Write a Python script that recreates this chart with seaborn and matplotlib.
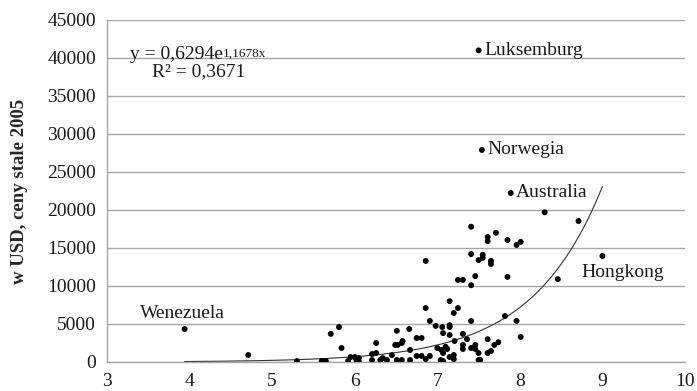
import numpy as np
import pandas as pd
import matplotlib
matplotlib.use("Agg")
import matplotlib.pyplot as plt
import seaborn as sns

# ---- data ----
x_vals = [3.94, 4.71, 5.30, 5.60, 5.65, 5.71, 5.81, 5.84, 5.92, 5.95,
          6.00, 6.02, 6.05, 6.05, 6.21, 6.21, 6.26, 6.26, 6.31, 6.34, 6.39,
          6.45, 6.49, 6.52, 6.51, 6.51, 6.57, 6.58, 6.57, 6.66, 6.67, 6.67,
          6.75, 6.81, 6.75, 6.81, 6.86, 6.91, 6.86, 6.86, 6.91, 6.98,
          7.00, 7.04, 7.05, 7.06, 7.07, 7.07, 7.07, 7.12, 7.10, 7.15, 7.15,
          7.15, 7.15, 7.15, 7.20, 7.20, 7.20, 7.21, 7.25, 7.25, 7.31, 7.31,
          7.31, 7.31, 7.36, 7.41, 7.41, 7.41, 7.41, 7.41, 7.46, 7.46, 7.46,
          7.50, 7.50, 7.50, 7.52,
          7.50, 7.54, 7.55, 7.55, 7.61, 7.61, 7.61, 7.61, 7.65, 7.65, 7.65,
          7.69, 7.71, 7.74, 7.82, 7.85, 7.85, 7.89, 7.96, 8.01, 7.96, 8.01,
          8.30, 8.46, 8.71, 9.00]
y_vals = [4340, 920, 130, 130, 130, 3700, 4600, 1840, 130, 650,
          650, 300, 520, 50, 260, 1050, 1180, 2500, 260, 520, 260,
          900, 2240, 2240, 4100, 260, 260, 2760, 2500, 4340, 1580, 260,
          3160, 3160, 790, 790, 390, 790, 13300, 7100, 5400, 4750,
          1840, 260, 1580, 4600, 3800, 1180, 130, 1710, 2000, 8000, 4850,
          4600, 3550, 660, 6450, 920, 390, 2760, 7100, 10800, 10800, 3700,
          2240, 1710, 3000, 17800, 14200, 10100, 5400, 1840, 11300, 2240, 1710,
          1180, 260, 13400, 260,
          41000, 27900, 14100, 13700, 16450, 15900, 3000, 1180, 13300, 12900, 1450,
          2240, 17000, 2600, 6050, 16050, 11200, 22240, 15400, 15800, 5400, 3300,
          19700, 10900, 18550, 13950]

labels = ["Luksemburg", "Norwegia", "Australia", "Hongkong", "Wenezuela"]
label_x = [7.50, 7.54, 7.89, 9.00, 3.94]
label_y = [41000, 27900, 22240, 13950, 4340]

trend_a = 0.6294
trend_b = 1.1678
eq_text = "y = 0,6294e"
eq_sup = "1,1678x"
r2_text = "R² = 0,3671"

x_ticks = [3, 4, 5, 6, 7, 8, 9, 10]
y_ticks = [0, 5000, 10000, 15000, 20000, 25000, 30000, 35000, 40000, 45000]
y_label = "w USD, ceny stale 2005"

# ---- styling ----
sns.set_style("white")
plt.rcParams['font.family'] = ['Liberation Serif', 'DejaVu Serif']

fig = plt.figure(figsize=(6.97, 3.91), dpi=100)
ax = fig.add_axes([107/697, 1-362/391, (685-107)/697, (362-20)/391])

df = pd.DataFrame({"x": x_vals, "y": y_vals})
xs = np.linspace(min(x_vals), max(x_vals), 200)
trend = pd.DataFrame({"x": xs, "y": trend_a * np.exp(trend_b * xs)})

sns.lineplot(data=trend, x="x", y="y", ax=ax, color="#333333", lw=0.8, zorder=2)
sns.scatterplot(data=df, x="x", y="y", ax=ax, color="black", s=18,
                edgecolor="none", zorder=3)

ax.set_xlim(3, 10)
ax.set_ylim(0, 45000)
ax.set_xticks(x_ticks)
ax.set_yticks(y_ticks)
ax.set_xticklabels([str(t) for t in x_ticks], fontsize=14)
ax.set_yticklabels([str(t) for t in y_ticks], fontsize=14)
ax.set_xlabel("")
ax.set_ylabel(y_label, fontsize=13.5, fontweight="bold", labelpad=14)

ax.yaxis.grid(True, color="#a6a6a6", lw=1)
ax.xaxis.grid(False)
ax.set_axisbelow(True)
for s in ["top", "right"]:
    ax.spines[s].set_visible(False)
for s in ["left", "bottom"]:
    ax.spines[s].set_color("#a6a6a6")
    ax.spines[s].set_linewidth(1)
ax.tick_params(axis="both", which="both", direction="out", length=5,
               color="#a6a6a6", width=1, pad=3, labelcolor="#1a1a1a")

# annotations
offsets = [(6, 0, "left", "center"), (6, 0, "left", "center"),
           (5, 0, "left", "center"), (20, -17, "center", "center"),
           (-2, 16, "center", "center")]
for lab, lx, ly, (dx, dy, ha, va) in zip(labels, label_x, label_y, offsets):
    ax.annotate(lab, xy=(lx, ly), xytext=(dx * 0.72, dy * 0.72),
                textcoords="offset points", ha=ha, va=va, fontsize=14,
                color="#1a1a1a")

t = ax.text(3.28, 40400, eq_text, fontsize=14, ha="left", va="center",
            color="#1a1a1a")
ax.annotate(eq_sup, xy=(1, 1), xycoords=t, xytext=(0, -1),
            textcoords="offset points", ha="left", va="top", fontsize=9.5,
            color="#1a1a1a")
ax.text(3.54, 38150, r2_text, fontsize=14, ha="left", va="center",
        color="#1a1a1a")

fig.savefig("out.png", dpi=100)
